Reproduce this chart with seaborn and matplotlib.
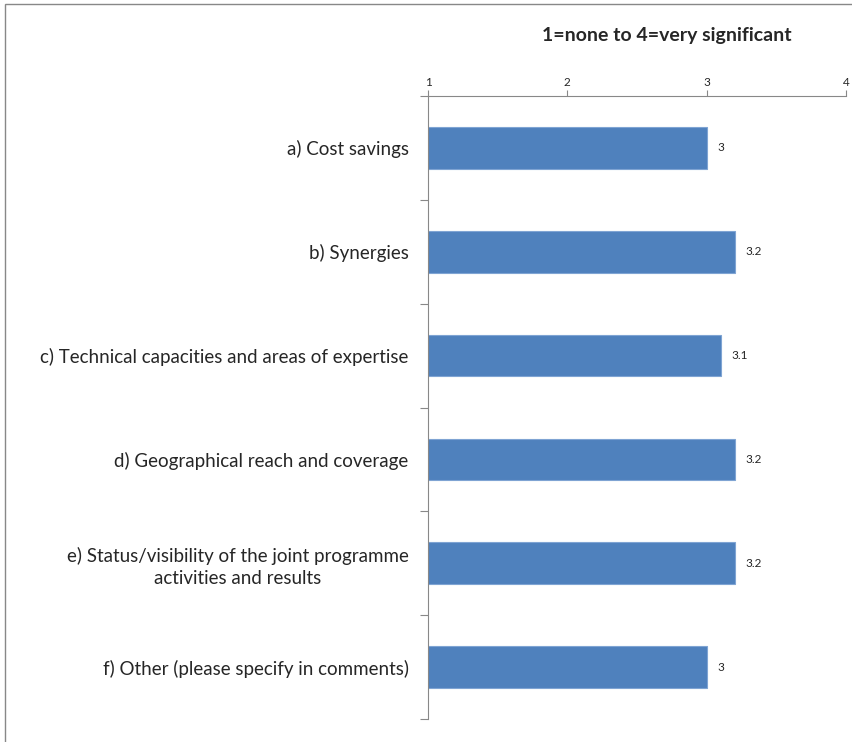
import seaborn as sns
import matplotlib.pyplot as plt
import matplotlib.patches as patches
from matplotlib.ticker import FixedLocator
import numpy as np
import pandas as pd

categories = [
    "a) Cost savings",
    "b) Synergies",
    "c) Technical capacities and areas of expertise",
    "d) Geographical reach and coverage",
    "e) Status/visibility of the joint programme\nactivities and results",
    "f) Other (please specify in comments)",
]
scores = [3, 3.2, 3.1, 3.2, 3.2, 3]
value_labels = ["3", "3.2", "3.1", "3.2", "3.2", "3"]
x_ticks = [1, 2, 3, 4]

df = pd.DataFrame({"Category": categories, "Score": scores})

sns.set_theme(style="white")
plt.rcParams["font.family"] = ["Lato", "DejaVu Sans"]

fig = plt.figure(figsize=(8.52, 7.42), dpi=100)
ax = fig.add_axes([428 / 852, 1 - 719 / 742, 418 / 852, 623 / 742])

sns.barplot(data=df, x="Score", y="Category", orient="h", color="#4F81BD",
            saturation=1, width=0.4, edgecolor="#7FA4D3", linewidth=0.8, ax=ax)

ax.set_xlim(1, 4)
ax.set_ylim(len(categories) - 0.5, -0.5)
ax.xaxis.set_ticks_position("top")
ax.set_xticks(x_ticks)
ax.set_xticklabels([str(t) for t in x_ticks], fontsize=8.5)
ax.tick_params(axis="x", which="major", direction="out", length=4, width=0.8,
               color="#888888", pad=2, top=True, bottom=False)
ax.set_xlabel("")
ax.set_ylabel("")

ax.tick_params(axis="y", which="major", length=0, pad=14, labelsize=13.5)
for lbl in ax.get_yticklabels():
    lbl.set_multialignment("center")
    lbl.set_linespacing(1.35)
ax.yaxis.set_minor_locator(FixedLocator(np.arange(-0.5, len(categories), 1)))
ax.tick_params(axis="y", which="minor", left=True, direction="out", length=6,
               width=0.8, color="#888888")

for side in ["right", "bottom"]:
    ax.spines[side].set_visible(False)
for side in ["top", "left"]:
    ax.spines[side].set_color("#888888")
    ax.spines[side].set_linewidth(0.8)

for i, (v, t) in enumerate(zip(scores, value_labels)):
    ax.annotate(t, xy=(v, i), xytext=(8, 0), textcoords="offset points",
                ha="left", va="center", fontsize=8.5)

fig.text(667 / 852, 1 - 35 / 742, "1=none to 4=very significant",
         ha="center", va="center", fontsize=14, fontweight="bold")

fig.patches.append(patches.Rectangle((5 / 852, -0.1), 1.2, 1 - 4 / 742 + 0.1,
                                     transform=fig.transFigure, fill=False,
                                     edgecolor="#888888", linewidth=1))

fig.savefig("out.png", dpi=100)
